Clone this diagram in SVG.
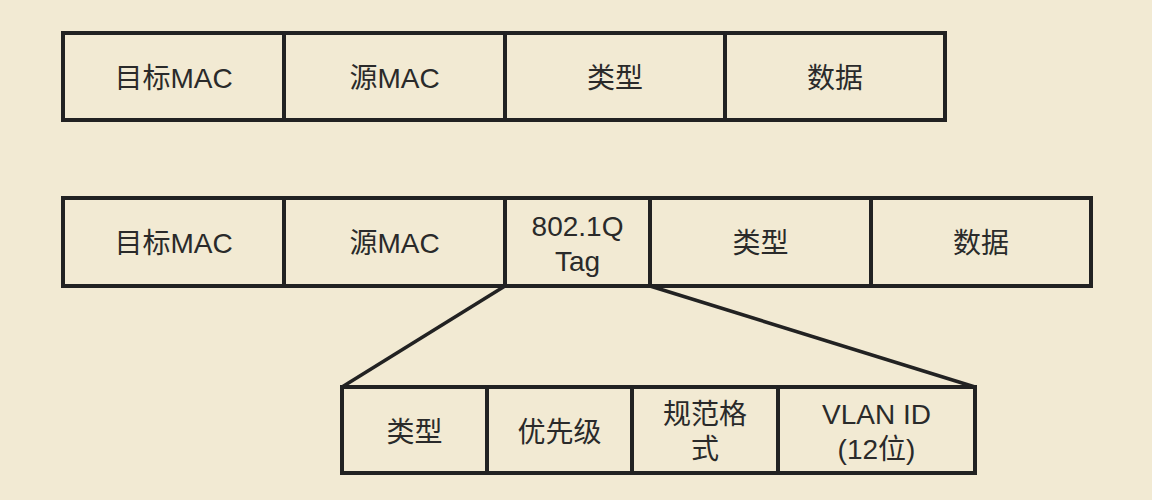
<svg xmlns="http://www.w3.org/2000/svg" width="1152" height="500" viewBox="0 0 1152 500">
  <style>
    .cell { fill: none; stroke: #222; stroke-width: 4; }
    .div { stroke: #222; stroke-width: 4; }
    .link { stroke: #222; stroke-width: 3.5; fill: none; }
    text { font-family: "Liberation Sans", "Noto Sans CJK SC", sans-serif; font-size: 28px; fill: #2a2a2a; text-anchor: middle; dominant-baseline: central; }
  </style>
  <rect width="1152" height="500" fill="#f2ead3"/>

  <!-- Plain Ethernet frame -->
  <g id="frame-plain">
    <rect class="cell" x="63" y="33" width="882" height="87"/>
    <line class="div" x1="284" y1="33" x2="284" y2="120"/>
    <line class="div" x1="505" y1="33" x2="505" y2="120"/>
    <line class="div" x1="725" y1="33" x2="725" y2="120"/>
    <text x="173.5" y="78">目标MAC</text>
    <text x="394.5" y="78">源MAC</text>
    <text x="615" y="78">类型</text>
    <text x="835" y="78">数据</text>
  </g>

  <!-- 802.1Q tagged frame -->
  <g id="frame-tagged">
    <rect class="cell" x="63" y="198" width="1028" height="88"/>
    <line class="div" x1="284" y1="198" x2="284" y2="286"/>
    <line class="div" x1="505" y1="198" x2="505" y2="286"/>
    <line class="div" x1="650" y1="198" x2="650" y2="286"/>
    <line class="div" x1="871" y1="198" x2="871" y2="286"/>
    <text x="173.5" y="243">目标MAC</text>
    <text x="394.5" y="243">源MAC</text>
    <text x="577.5" y="226">802.1Q</text>
    <text x="577.5" y="261">Tag</text>
    <text x="760.5" y="243">类型</text>
    <text x="981" y="243">数据</text>
  </g>

  <!-- Tag breakdown -->
  <g id="tag-fields">
    <rect class="cell" x="342" y="387" width="633" height="86"/>
    <line class="div" x1="487" y1="387" x2="487" y2="473"/>
    <line class="div" x1="632" y1="387" x2="632" y2="473"/>
    <line class="div" x1="778" y1="387" x2="778" y2="473"/>
    <text x="414.5" y="432">类型</text>
    <text x="559.5" y="432">优先级</text>
    <text x="705" y="414">规范格</text>
    <text x="705" y="449">式</text>
    <text x="876.5" y="414">VLAN ID</text>
    <text x="876.5" y="449">(12位)</text>
  </g>

  <!-- Expansion lines from the tag to its fields -->
  <g id="connectors">
    <line class="link" x1="505" y1="286" x2="342" y2="387"/>
    <line class="link" x1="650" y1="286" x2="975" y2="387"/>
  </g>
</svg>
